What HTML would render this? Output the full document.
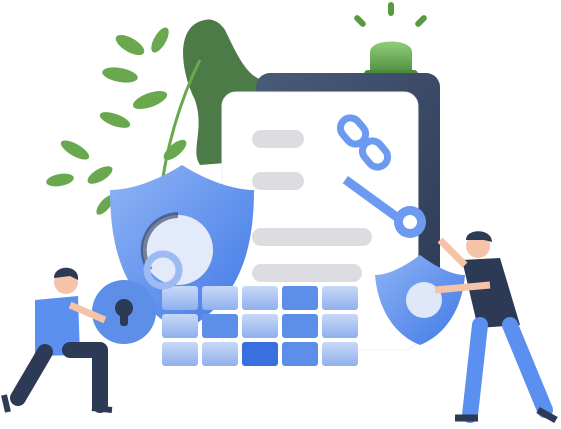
<!DOCTYPE html>
<html><head><meta charset="utf-8"><style>
html,body{margin:0;padding:0;background:#fff;width:561px;height:429px;overflow:hidden}
</style></head><body>
<svg width="561" height="429" viewBox="0 0 561 429" xmlns="http://www.w3.org/2000/svg">
<defs>
<linearGradient id="nv" x1="0" y1="0" x2="1" y2="1"><stop offset="0" stop-color="#4a5b78"/><stop offset="1" stop-color="#2c3a55"/></linearGradient>
<linearGradient id="sh" x1="0" y1="0" x2="1" y2="1"><stop offset="0" stop-color="#8fb4f5"/><stop offset="1" stop-color="#3f78e6"/></linearGradient>
<linearGradient id="fd" x1="0" y1="0" x2="0" y2="1"><stop offset="0" stop-color="#c8d9f7"/><stop offset="1" stop-color="#8fb0ee"/></linearGradient>
<linearGradient id="gr" x1="0" y1="0" x2="0" y2="1"><stop offset="0" stop-color="#8fcf7a"/><stop offset="1" stop-color="#4e8a3e"/></linearGradient>
</defs>
<path d="M205 20 C175 25 180 70 195 100 C205 130 190 150 200 165 L262 160 L262 80 C245 75 235 50 225 30 C220 22 212 18 205 20Z" fill="#4c7b48"/>
<g fill="#6aa84f">
<path d="M160 200 C165 150 180 100 200 60" stroke="#6aa84f" stroke-width="3" fill="none"/>
<ellipse cx="130" cy="45" rx="16" ry="7" transform="rotate(30 130 45)"/>
<ellipse cx="160" cy="40" rx="14" ry="6" transform="rotate(-60 160 40)"/>
<ellipse cx="120" cy="75" rx="18" ry="7" transform="rotate(10 120 75)"/>
<ellipse cx="150" cy="100" rx="18" ry="7" transform="rotate(-20 150 100)"/>
<ellipse cx="115" cy="120" rx="16" ry="6" transform="rotate(20 115 120)"/>
<ellipse cx="75" cy="150" rx="16" ry="6" transform="rotate(30 75 150)"/>
<ellipse cx="60" cy="180" rx="14" ry="6" transform="rotate(-10 60 180)"/>
<ellipse cx="100" cy="175" rx="14" ry="6" transform="rotate(-30 100 175)"/>
<ellipse cx="105" cy="205" rx="12" ry="5" transform="rotate(-50 105 205)"/>
<ellipse cx="175" cy="150" rx="14" ry="6" transform="rotate(-40 175 150)"/>
</g>
<rect x="388" y="2" width="6" height="14" rx="3" fill="#5a9a3e"/>
<rect x="357" y="14" width="6" height="14" rx="3" fill="#5a9a3e" transform="rotate(-45 360 21)"/>
<rect x="418" y="14" width="6" height="14" rx="3" fill="#5a9a3e" transform="rotate(45 421 21)"/>
<path d="M370 75 L370 52 C370 38 412 38 412 52 L412 75Z" fill="url(#gr)"/>
<rect x="364" y="70" width="54" height="16" rx="4" fill="#4e8a3e"/>
<rect x="256" y="73" width="184" height="240" rx="14" fill="url(#nv)"/>
<rect x="222" y="92" width="196" height="258" rx="14" fill="#fff" stroke="#eef0f4"/>
<g fill="#dcdde0">
<rect x="252" y="130" width="52" height="18" rx="9"/>
<rect x="252" y="172" width="52" height="18" rx="9"/>
<rect x="252" y="228" width="120" height="18" rx="9"/>
<rect x="252" y="264" width="110" height="18" rx="9"/>
</g>
<g fill="none" stroke="#6b9af0" stroke-width="7">
<rect x="343" y="117" width="20" height="28" rx="10" transform="rotate(-40 353 131)"/>
<rect x="365" y="140" width="20" height="28" rx="10" transform="rotate(-40 375 154)"/>
</g>
<g fill="#6b9af0">
<rect x="348" y="176" width="72" height="9" transform="rotate(36 348 176)"/>
<circle cx="410" cy="222" r="16"/>
<circle cx="410" cy="222" r="7" fill="#fff"/>
</g>
<path d="M182 165 C150 185 125 190 110 190 C110 260 130 305 182 332 C234 305 254 260 254 190 C240 190 214 185 182 165Z" fill="url(#sh)"/>
<circle cx="178" cy="250" r="35" fill="#e3eaf9"/>
<path d="M150 270 A35 35 0 0 1 178 215" fill="none" stroke="#2d3a56" stroke-width="6" opacity=".6"/>
<g>
<g id="row">
<rect x="162" y="286" width="36" height="24" rx="3" fill="url(#fd)"/>
<rect x="202" y="286" width="36" height="24" rx="3" fill="url(#fd)"/>
<rect x="242" y="286" width="36" height="24" rx="3" fill="url(#fd)"/>
<rect x="282" y="286" width="36" height="24" rx="3" fill="#5d8ee8"/>
<rect x="322" y="286" width="36" height="24" rx="3" fill="url(#fd)"/>
</g>
<use href="#row" y="28"/>
<use href="#row" y="56"/>
<rect x="202" y="314" width="36" height="24" rx="3" fill="#5d8ee8"/>
<rect x="242" y="342" width="36" height="24" rx="3" fill="#3a6fe0"/>
</g>
<circle cx="163" cy="270" r="16" fill="none" stroke="#9dbaf2" stroke-width="7"/>
<circle cx="124" cy="312" r="32" fill="#5d8ee8"/>
<circle cx="124" cy="308" r="9" fill="#2d3a56"/>
<rect x="120" y="310" width="8" height="16" rx="3" fill="#2d3a56"/>
<path d="M420 255 C400 270 385 275 375 275 C378 310 395 335 420 345 C445 335 462 310 465 275 C455 275 440 270 420 255Z" fill="url(#sh)"/>
<circle cx="424" cy="300" r="18" fill="#dfe7f8"/>
<g>
<circle cx="478" cy="246" r="12" fill="#f4c3a8"/>
<path d="M466 240 C466 228 492 228 492 242 L484 240 Z" fill="#2d3a56"/>
<path d="M462 260 L500 258 L520 325 L478 328Z" fill="#2d3a56"/>
<path d="M440 240 L465 265" stroke="#f4c3a8" stroke-width="7"/>
<path d="M435 290 L490 285" stroke="#f4c3a8" stroke-width="7"/>
<path d="M480 325 L470 415 M510 325 L545 410" stroke="#5b8ff0" stroke-width="16" stroke-linecap="round"/>
<path d="M455 418 L478 418 M538 410 L556 420" stroke="#2d3a56" stroke-width="7"/>
</g>
<g>
<circle cx="66" cy="282" r="12" fill="#f4c3a8"/>
<path d="M54 278 C54 264 80 264 78 280 L70 276Z" fill="#2d3a56"/>
<path d="M35 300 L78 296 L80 355 L35 356Z" fill="#5b8ff0"/>
<path d="M70 305 L105 320" stroke="#f4c3a8" stroke-width="7"/>
<path d="M45 352 L18 398 M70 350 L100 350 L100 405" stroke="#2d3a56" stroke-width="16" stroke-linecap="round" stroke-linejoin="round" fill="none"/>
<path d="M4 395 L8 412 M92 408 L112 410" stroke="#2d3a56" stroke-width="6" fill="none"/>
</g>
</svg>
</body></html>
